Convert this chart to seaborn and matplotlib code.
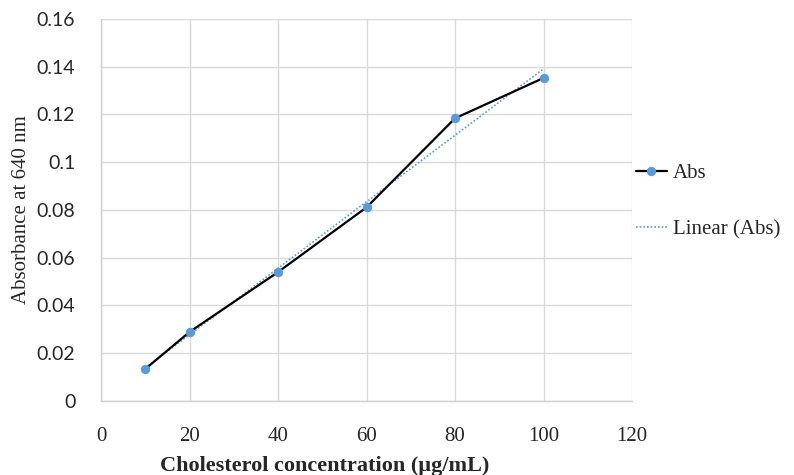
import numpy as np
import pandas as pd
import seaborn as sns
import matplotlib.pyplot as plt

# cholesterol calibration data
concentration = [10, 20, 40, 60, 80, 100]
absorbance = [0.0134, 0.0289, 0.054, 0.0811, 0.1184, 0.1353]
x_ticks = [0, 20, 40, 60, 80, 100, 120]
y_ticks = [0, 0.02, 0.04, 0.06, 0.08, 0.1, 0.12, 0.14, 0.16]
y_ticklabels = ['0', '0.02', '0.04', '0.06', '0.08', '0.1', '0.12', '0.14', '0.16']

df = pd.DataFrame({'conc': concentration, 'abs': absorbance})

sns.set_style('white')
serif = ['Liberation Serif', 'DejaVu Serif']
sans = ['Lato', 'DejaVu Sans']

fig = plt.figure(figsize=(7.94, 4.75), dpi=100)
ax = fig.add_axes([0.1272, 0.1558, 0.6688, 0.8042])

# linear trendline (dotted), like excel
sns.regplot(data=df, x='conc', y='abs', ax=ax, ci=None, scatter=False,
            line_kws=dict(color='#5b9bd5', linestyle=(0, (1, 1.2)), linewidth=1.2, zorder=2),
            label='Linear (Abs)')
sns.lineplot(data=df, x='conc', y='abs', ax=ax, color='black', linewidth=1.6,
             marker='o', markersize=6, markerfacecolor='#5b9bd5', markeredgecolor='#5b9bd5',
             label='Abs', zorder=3)

ax.set_xlim(0, 120)
ax.set_ylim(0, 0.16)
ax.set_xticks(x_ticks)
ax.set_xticklabels([str(t) for t in x_ticks], family=serif, fontsize=15)
ax.set_yticks(y_ticks)
ax.set_yticklabels(y_ticklabels, family=sans, fontsize=14)
ax.tick_params(axis='x', length=0, pad=19)
ax.tick_params(axis='y', length=0, pad=18.5)
ax.grid(True, color='#d9d9d9', linewidth=1)
for side in ['top', 'right']:
    ax.spines[side].set_visible(False)
for side in ['left', 'bottom']:
    ax.spines[side].set_color('#d0d0d0')
    ax.spines[side].set_linewidth(1)

ax.set_xlabel('Cholesterol concentration (µg/mL)', family=serif, fontsize=16,
              fontweight='bold')
ax.xaxis.set_label_coords(0.422, -0.145)
ax.set_ylabel('Absorbance at 640 nm', family=serif, fontsize=15)
ax.yaxis.set_label_coords(-0.132, 0.5)

handles, labels = ax.get_legend_handles_labels()
order = [labels.index('Abs'), labels.index('Linear (Abs)')]
ax.legend([handles[i] for i in order], [labels[i] for i in order],
          loc='center left', bbox_to_anchor=(1.003, 0.522), frameon=False,
          prop={'family': serif, 'size': 15}, labelspacing=1.75,
          handlelength=1.5, handletextpad=0.3, borderaxespad=0, borderpad=0.1)

fig.savefig('out.png', dpi=100)
